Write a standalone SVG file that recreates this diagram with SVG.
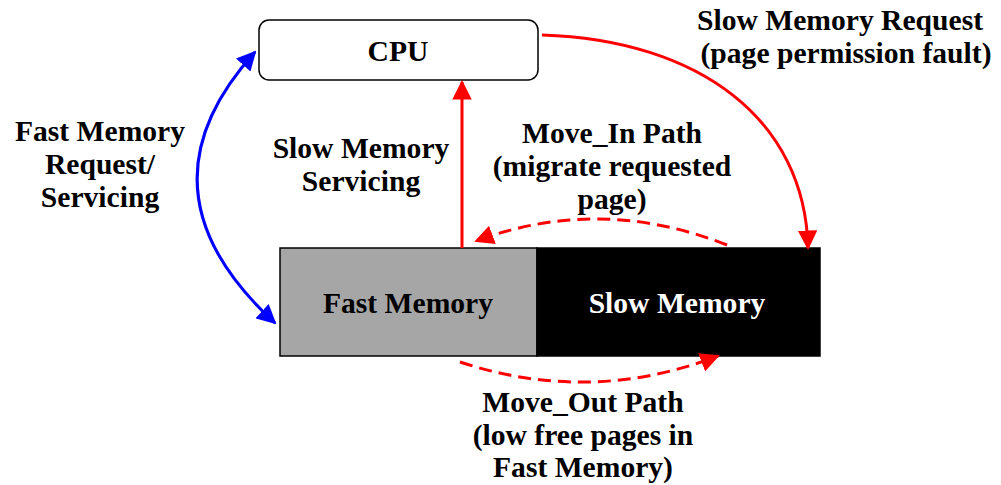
<svg xmlns="http://www.w3.org/2000/svg" width="1001" height="485" viewBox="0 0 1001 485">
  <style>
    .lbl { font-family: "Liberation Serif", "Times New Roman", serif; font-weight: bold; font-size: 29.6px; fill: #000; text-anchor: middle; }
    .box { stroke: #000; stroke-width: 1.5; }
    .red { fill: none; stroke: #ff0000; stroke-width: 3; }
    .dash { stroke-dasharray: 13 7; }
    .blue { fill: none; stroke: #0000ff; stroke-width: 3; }
  </style>
  <defs>
    <marker id="ahRed" viewBox="0 0 10 10" refX="9" refY="5" markerWidth="6.5" markerHeight="6.5" markerUnits="strokeWidth" orient="auto-start-reverse">
      <path d="M0,0 L10,5 L0,10 Z" fill="#ff0000"/>
    </marker>
    <marker id="ahBlue" viewBox="0 0 10 10" refX="9" refY="5" markerWidth="6.5" markerHeight="6.5" markerUnits="strokeWidth" orient="auto-start-reverse">
      <path d="M0,0 L10,5 L0,10 Z" fill="#0000ff"/>
    </marker>
  </defs>

  <g id="cpu">
    <rect class="box" x="259" y="20" width="279" height="60" rx="10" fill="#fff"/>
    <text class="lbl" x="398" y="61">CPU</text>
  </g>

  <g id="fast-memory">
    <rect class="box" x="280" y="248" width="257" height="108" fill="#a6a6a6"/>
    <text class="lbl" x="408" y="313">Fast Memory</text>
  </g>

  <g id="slow-memory">
    <rect class="box" x="537" y="248" width="283" height="108" fill="#000"/>
    <text class="lbl" x="677" y="313" style="fill:#fff">Slow Memory</text>
  </g>

  <g id="connectors">
    <!-- fast path, both directions -->
    <path class="blue" d="M275,323 Q130,190 255,52" marker-start="url(#ahBlue)" marker-end="url(#ahBlue)"/>
    <!-- slow servicing up to CPU -->
    <path class="red" d="M462,248 L462,82" marker-end="url(#ahRed)"/>
    <!-- slow request from CPU -->
    <path class="red" d="M542,35 C700,40 805,120 808,248" marker-end="url(#ahRed)"/>
    <!-- move in -->
    <path class="red dash" d="M727,245 Q600,195 476,241" marker-end="url(#ahRed)"/>
    <!-- move out -->
    <path class="red dash" d="M460,362 Q590,405 718,356" marker-end="url(#ahRed)"/>
  </g>

  <g id="labels">
    <text class="lbl" x="100" y="141">Fast Memory</text>
    <text class="lbl" x="100" y="174">Request/</text>
    <text class="lbl" x="100" y="207">Servicing</text>

    <text class="lbl" x="361" y="158">Slow Memory</text>
    <text class="lbl" x="361" y="191">Servicing</text>

    <text class="lbl" x="612" y="143">Move_In Path</text>
    <text class="lbl" x="612" y="176">(migrate requested</text>
    <text class="lbl" x="612" y="209">page)</text>

    <text class="lbl" x="840" y="30">Slow Memory Request</text>
    <text class="lbl" x="846" y="63">(page permission fault)</text>

    <text class="lbl" x="583" y="412">Move_Out Path</text>
    <text class="lbl" x="583" y="445">(low free pages in</text>
    <text class="lbl" x="583" y="477">Fast Memory)</text>
  </g>
</svg>
